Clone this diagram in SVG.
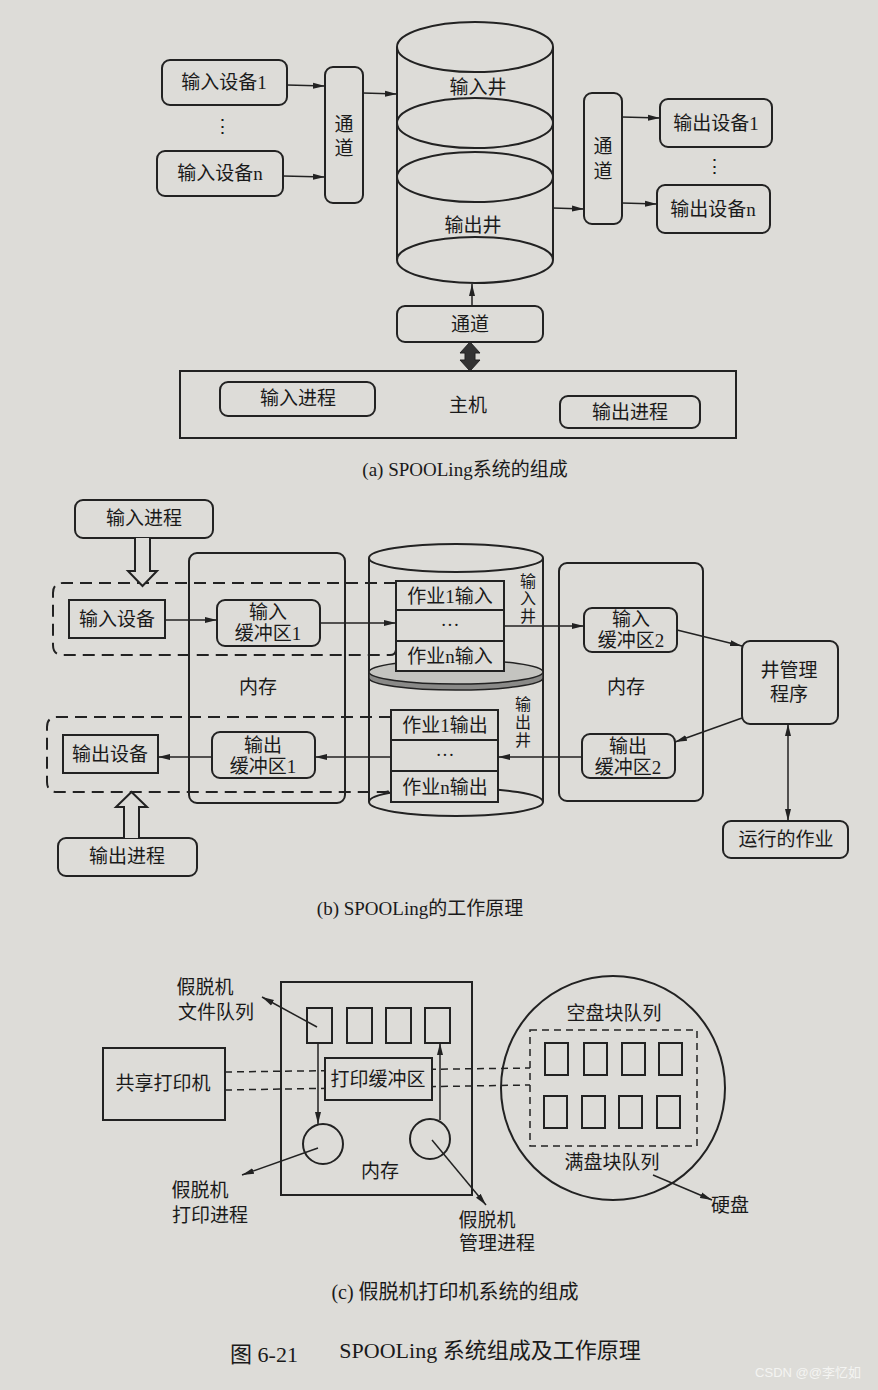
<svg xmlns="http://www.w3.org/2000/svg" width="878" height="1390" viewBox="0 0 878 1390">
<defs>
<style>
.bg{fill:#dddcd8}
.b{fill:#dddcd8;stroke:#222;stroke-width:2}
.n{fill:none;stroke:#222;stroke-width:2}
.l{fill:none;stroke:#222;stroke-width:1.5}
.d{fill:none;stroke:#222;stroke-width:2;stroke-dasharray:12 7}
.d2{fill:none;stroke:#222;stroke-width:1.5;stroke-dasharray:7 5}
text{font-family:"Liberation Serif","Noto Sans CJK SC",serif;fill:#1a1a1a;text-anchor:middle;dominant-baseline:central}
.t{font-size:19px}
.s{font-size:19px}
.v{font-size:16px}
.cap{font-size:19px}
.capc{font-size:20px}
.big{font-size:22px}
.wm{font-family:"Liberation Sans","Noto Sans CJK SC",sans-serif;font-size:13px;fill:#f4f4f2}
</style>
<marker id="ah" viewBox="0 0 12 8" refX="12" refY="4" markerWidth="12" markerHeight="8" markerUnits="userSpaceOnUse" orient="auto-start-reverse">
<path d="M0,1 L12,4 L0,7 Z" fill="#222"/>
</marker>
</defs>
<rect class="bg" x="0" y="0" width="878" height="1390"/>

<!-- ===== (a) ===== -->
<g id="a-indev1"><rect class="b" x="162" y="60" width="125" height="45" rx="8"/><text class="t" x="224" y="82">输入设备1</text></g>
<g id="a-dots1"><text class="t" x="222" y="126">⋮</text></g>
<g id="a-indevn"><rect class="b" x="157" y="151" width="126" height="45" rx="8"/><text class="t" x="220" y="173">输入设备n</text></g>
<g id="a-chan1"><rect class="b" x="325" y="67" width="38" height="136" rx="8"/><text class="t" x="344" y="124">通</text><text class="t" x="344" y="148">道</text></g>
<g id="a-cyl">
<line class="n" x1="397" y1="47" x2="397" y2="260"/>
<line class="n" x1="553" y1="47" x2="553" y2="260"/>
<ellipse class="n" cx="475" cy="47" rx="78" ry="25"/>
<ellipse class="n" cx="475" cy="123" rx="78" ry="25"/>
<ellipse class="n" cx="475" cy="177" rx="78" ry="25"/>
<ellipse class="n" cx="475" cy="260" rx="78" ry="23"/>
<text class="t" x="478" y="87">输入井</text>
<text class="t" x="473" y="225">输出井</text>
</g>
<g id="a-chan2"><rect class="b" x="584" y="93" width="38" height="131" rx="8"/><text class="t" x="603" y="146">通</text><text class="t" x="603" y="171">道</text></g>
<g id="a-outdev1"><rect class="b" x="660" y="99" width="112" height="48" rx="8"/><text class="t" x="716" y="123">输出设备1</text></g>
<g id="a-dots2"><text class="t" x="714" y="166">⋮</text></g>
<g id="a-outdevn"><rect class="b" x="657" y="185" width="113" height="48" rx="8"/><text class="t" x="713" y="209">输出设备n</text></g>
<g id="a-chan3"><rect class="b" x="397" y="306" width="146" height="36" rx="8"/><text class="t" x="470" y="324">通道</text></g>
<g id="a-host">
<rect class="b" x="180" y="371" width="556" height="67"/>
<rect class="b" x="220" y="382" width="155" height="34" rx="8"/><text class="t" x="298" y="398">输入进程</text>
<text class="t" x="468" y="405">主机</text>
<rect class="b" x="560" y="396" width="140" height="32" rx="8"/><text class="t" x="630" y="412">输出进程</text>
</g>
<g id="a-connectors">
<line class="l" x1="287" y1="85" x2="325" y2="86" marker-end="url(#ah)"/>
<line class="l" x1="283" y1="176" x2="325" y2="177" marker-end="url(#ah)"/>
<line class="l" x1="363" y1="93" x2="397" y2="94" marker-end="url(#ah)"/>
<line class="l" x1="553" y1="208" x2="584" y2="209" marker-end="url(#ah)"/>
<line class="l" x1="622" y1="117" x2="660" y2="118" marker-end="url(#ah)"/>
<line class="l" x1="622" y1="203" x2="657" y2="204" marker-end="url(#ah)"/>
<line class="l" x1="472" y1="306" x2="472" y2="284" marker-end="url(#ah)"/>
<path d="M470,342 L480,353 L475,353 L475,360 L480,360 L470,371 L460,360 L465,360 L465,353 L460,353 Z" fill="#333" stroke="#222" stroke-width="1"/>
</g>
<text class="cap" x="465" y="469">(a) SPOOLing系统的组成</text>

<!-- ===== (b) ===== -->
<g id="b-inproc"><rect class="b" x="75" y="500" width="138" height="38" rx="8"/><text class="t" x="144" y="518">输入进程</text></g>
<g id="b-mem1"><rect class="b" x="189" y="553" width="156" height="250" rx="8"/><text class="t" x="258" y="687">内存</text></g>
<g id="b-mem2"><rect class="b" x="559" y="563" width="144" height="238" rx="8"/><text class="t" x="626" y="687">内存</text></g>
<g id="b-cyl">
<line class="n" x1="369" y1="558" x2="369" y2="802"/>
<line class="n" x1="543" y1="558" x2="543" y2="802"/>
<ellipse class="n" cx="456" cy="558" rx="87" ry="14"/>
<path d="M369,672 L369,678 A87,12 0 0 0 543,678 L543,672 Z" fill="#8a8a88" stroke="#222" stroke-width="1.5"/>
<ellipse cx="456" cy="672" rx="87" ry="12" fill="#c4c4c0" stroke="#222" stroke-width="1.5"/>
<ellipse class="b" cx="456" cy="802" rx="87" ry="14"/>
<text class="v" x="528" y="581">输</text><text class="v" x="528" y="598.5">入</text><text class="v" x="528" y="616">井</text>
<text class="v" x="523" y="704">输</text><text class="v" x="523" y="722">出</text><text class="v" x="523" y="740">井</text>
</g>
<g id="b-jobsin">
<rect class="b" x="396" y="581" width="108" height="29"/><text class="s" x="450" y="596">作业1输入</text>
<rect class="b" x="396" y="610" width="108" height="31"/><text class="s" x="450" y="624">···</text>
<rect class="b" x="396" y="641" width="108" height="30"/><text class="s" x="450" y="656">作业n输入</text>
</g>
<g id="b-jobsout">
<rect class="b" x="391" y="710" width="107" height="30"/><text class="s" x="445" y="725">作业1输出</text>
<rect class="b" x="391" y="740" width="107" height="31"/><text class="s" x="445" y="754">···</text>
<rect class="b" x="391" y="771" width="107" height="31"/><text class="s" x="445" y="787">作业n输出</text>
</g>
<g id="b-dashin"><path class="d" d="M396,583 L63,583 Q53,583 53,593 L53,645 Q53,655 63,655 L390,655 Q396,655 396,649"/></g>
<g id="b-dashout"><path class="d" d="M391,717 L57,717 Q47,717 47,727 L47,782 Q47,792 57,792 L385,792 Q391,792 391,786"/></g>
<g id="b-indev"><rect class="b" x="69" y="600" width="96" height="38"/><text class="t" x="117" y="619">输入设备</text></g>
<g id="b-inbuf1"><rect class="b" x="217" y="600" width="103" height="46" rx="8"/><text class="s" x="268" y="612">输入</text><text class="s" x="268" y="633">缓冲区1</text></g>
<g id="b-outdev"><rect class="b" x="63" y="735" width="95" height="38"/><text class="t" x="110" y="754">输出设备</text></g>
<g id="b-outbuf1"><rect class="b" x="212" y="732" width="103" height="46" rx="8"/><text class="s" x="263" y="745">输出</text><text class="s" x="263" y="766">缓冲区1</text></g>
<g id="b-inbuf2"><rect class="b" x="584" y="608" width="93" height="44" rx="8"/><text class="s" x="631" y="619">输入</text><text class="s" x="631" y="640">缓冲区2</text></g>
<g id="b-outbuf2"><rect class="b" x="582" y="734" width="93" height="44" rx="8"/><text class="s" x="628" y="746">输出</text><text class="s" x="628" y="767">缓冲区2</text></g>
<g id="b-mgr"><rect class="b" x="742" y="641" width="96" height="83" rx="8"/><text class="t" x="789" y="670">井管理</text><text class="t" x="789" y="694">程序</text></g>
<g id="b-job"><rect class="b" x="723" y="821" width="125" height="37" rx="8"/><text class="t" x="786" y="839">运行的作业</text></g>
<g id="b-outproc"><rect class="b" x="58" y="838" width="139" height="38" rx="8"/><text class="t" x="127" y="856">输出进程</text></g>
<g id="b-connectors">
<path class="b" d="M135,538 L135,571 L128,571 L142.5,586 L157,571 L150,571 L150,538"/>
<path class="b" d="M124,838 L124,807 L116,807 L131.5,792 L147,807 L139,807 L139,838"/>
<line class="l" x1="165" y1="620" x2="217" y2="620" marker-end="url(#ah)"/>
<line class="l" x1="320" y1="623" x2="396" y2="623" marker-end="url(#ah)"/>
<line class="l" x1="504" y1="626" x2="584" y2="626" marker-end="url(#ah)"/>
<line class="l" x1="677" y1="630" x2="742" y2="646" marker-end="url(#ah)"/>
<line class="l" x1="742" y1="718" x2="675" y2="742" marker-end="url(#ah)"/>
<line class="l" x1="582" y1="757" x2="498" y2="757" marker-end="url(#ah)"/>
<line class="l" x1="391" y1="757" x2="315" y2="757" marker-end="url(#ah)"/>
<line class="l" x1="212" y1="757" x2="158" y2="757" marker-end="url(#ah)"/>
<line class="l" x1="788" y1="724" x2="788" y2="821" marker-start="url(#ah)" marker-end="url(#ah)"/>
</g>
<text class="cap" x="420" y="908">(b) SPOOLing的工作原理</text>

<!-- ===== (c) ===== -->
<g id="c-dashlines">
<line class="d2" x1="225" y1="1072" x2="530" y2="1068"/>
<line class="d2" x1="225" y1="1090" x2="530" y2="1085"/>
</g>
<g id="c-printer"><rect class="b" x="103" y="1048" width="122" height="72"/><text class="t" x="163" y="1083">共享打印机</text></g>
<g id="c-mem">
<rect class="n" x="281" y="982" width="191" height="213"/>
<rect class="n" x="307" y="1008" width="25" height="35"/>
<rect class="n" x="347" y="1008" width="25" height="35"/>
<rect class="n" x="386" y="1008" width="25" height="35"/>
<rect class="n" x="425" y="1008" width="25" height="35"/>
<rect class="b" x="325" y="1058" width="107" height="42"/><text class="t" x="378" y="1079">打印缓冲区</text>
<circle class="n" cx="323" cy="1144" r="20"/>
<circle class="n" cx="430" cy="1139" r="20"/>
<text class="t" x="380" y="1171">内存</text>
</g>
<g id="c-disk">
<circle class="n" cx="613" cy="1088" r="112"/>
<text class="t" x="614" y="1013">空盘块队列</text>
<rect class="d2" x="530" y="1030" width="167" height="116"/>
<rect class="n" x="545" y="1043" width="23" height="32"/>
<rect class="n" x="584" y="1043" width="23" height="32"/>
<rect class="n" x="622" y="1043" width="23" height="32"/>
<rect class="n" x="659" y="1043" width="23" height="32"/>
<rect class="n" x="544" y="1096" width="23" height="32"/>
<rect class="n" x="582" y="1096" width="23" height="32"/>
<rect class="n" x="619" y="1096" width="23" height="32"/>
<rect class="n" x="657" y="1096" width="23" height="32"/>
<text class="t" x="612" y="1162">满盘块队列</text>
</g>
<g id="c-labels">
<text class="t" x="205" y="987">假脱机</text><text class="t" x="216" y="1012">文件队列</text>
<text class="t" x="200" y="1190">假脱机</text><text class="t" x="210" y="1215">打印进程</text>
<text class="t" x="487" y="1220">假脱机</text><text class="t" x="497" y="1243">管理进程</text>
<text class="t" x="730" y="1205">硬盘</text>
</g>
<g id="c-connectors">
<line class="l" x1="317" y1="1027" x2="262" y2="997" marker-end="url(#ah)"/>
<line class="l" x1="318" y1="1043" x2="318" y2="1124" marker-end="url(#ah)"/>
<line class="l" x1="440" y1="1120" x2="440" y2="1043" marker-end="url(#ah)"/>
<line class="l" x1="318" y1="1148" x2="242" y2="1175" marker-end="url(#ah)"/>
<line class="l" x1="432" y1="1140" x2="486" y2="1205" marker-end="url(#ah)"/>
<line class="l" x1="653" y1="1175" x2="712" y2="1200" marker-end="url(#ah)"/>
</g>
<text class="capc" x="455" y="1292">(c) 假脱机打印机系统的组成</text>
<text class="big" x="264" y="1354">图 6-21</text>
<text class="big" x="490" y="1350">SPOOLing 系统组成及工作原理</text>
<text class="wm" x="808" y="1372">CSDN @@李忆如</text>
</svg>
